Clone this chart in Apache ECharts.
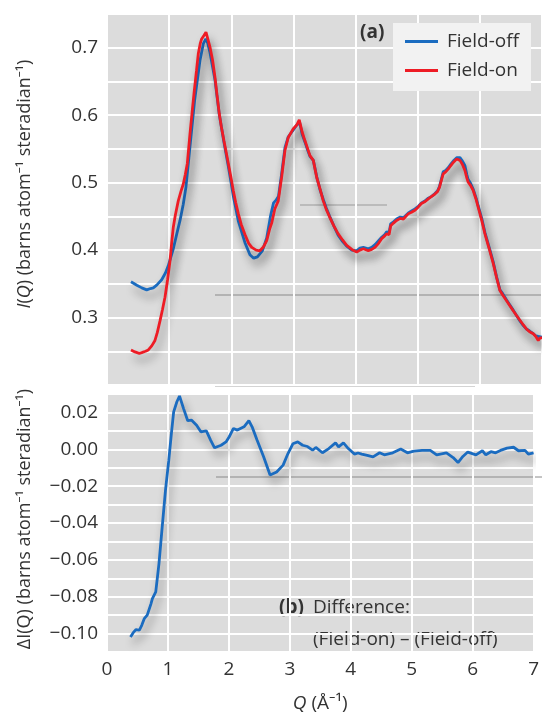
<!DOCTYPE html>
<html><head><meta charset="utf-8">
<script src="https://cdn.jsdelivr.net/npm/echarts@6/dist/echarts.min.js"></script>
<style>html,body{margin:0;padding:0;background:#fff}#c{width:542px;height:717px}</style>
</head><body><div id="c"></div>
<script>
const fieldOffQ = [0.386,0.48,0.56,0.639,0.70,0.745,0.80,0.88,0.94,0.987,1.067,1.12,1.175,1.227,1.27,1.335,1.41,1.496,1.55,1.59,1.62,1.657,1.738,1.807,1.882,1.953,2.033,2.113,2.22,2.30,2.36,2.42,2.50,2.57,2.63,2.68,2.72,2.76,2.81,2.864,2.917,2.998,3.05,3.10,3.14,3.186,3.23,3.266,3.32,3.374,3.43,3.48,3.53,3.583,3.65,3.72,3.79,3.857,3.94,4.018,4.07,4.125,4.205,4.26,4.313,4.37,4.42,4.47,4.50,4.54,4.565,4.61,4.66,4.72,4.77,4.85,4.90,4.956,5.01,5.06,5.12,5.17,5.23,5.277,5.32,5.35,5.38,5.41,5.45,5.49,5.53,5.572,5.627,5.68,5.72,5.76,5.79,5.81,5.85,5.894,5.94,5.975,6.03,6.082,6.15,6.216,6.27,6.323,6.37,6.43,6.48,6.537,6.59,6.645,6.70,6.75,6.80,6.86,6.90,6.94,6.97,7.0];
const fieldOffI = [0.353,0.348,0.344,0.341,0.343,0.344,0.348,0.356,0.366,0.377,0.402,0.423,0.444,0.468,0.493,0.553,0.622,0.681,0.706,0.713,0.707,0.693,0.652,0.601,0.560,0.524,0.480,0.443,0.411,0.393,0.388,0.390,0.399,0.418,0.450,0.470,0.474,0.480,0.513,0.552,0.568,0.578,0.585,0.589,0.572,0.560,0.548,0.539,0.533,0.509,0.489,0.475,0.462,0.450,0.436,0.422,0.413,0.406,0.400,0.399,0.403,0.404,0.402,0.404,0.408,0.414,0.419,0.423,0.427,0.426,0.439,0.442,0.446,0.449,0.448,0.455,0.458,0.461,0.465,0.470,0.473,0.477,0.480,0.484,0.488,0.494,0.505,0.516,0.518,0.522,0.527,0.532,0.537,0.537,0.532,0.525,0.512,0.505,0.499,0.490,0.477,0.465,0.447,0.426,0.404,0.382,0.360,0.341,0.335,0.326,0.319,0.311,0.303,0.295,0.288,0.283,0.280,0.276,0.273,0.272,0.272,0.271];
const fieldOnQ = [0.386,0.45,0.52,0.558,0.62,0.665,0.72,0.772,0.81,0.853,0.893,0.933,0.975,1.014,1.04,1.067,1.10,1.147,1.19,1.228,1.26,1.292,1.335,1.37,1.40,1.44,1.469,1.50,1.523,1.56,1.593,1.62,1.657,1.70,1.738,1.77,1.807,1.84,1.882,1.92,1.953,2.00,2.033,2.07,2.113,2.16,2.22,2.28,2.33,2.40,2.46,2.52,2.57,2.62,2.65,2.70,2.756,2.81,2.864,2.917,2.998,3.05,3.094,3.14,3.186,3.23,3.266,3.32,3.374,3.43,3.48,3.53,3.583,3.65,3.72,3.79,3.857,3.94,4.018,4.07,4.125,4.205,4.26,4.313,4.37,4.42,4.47,4.50,4.54,4.565,4.61,4.66,4.72,4.77,4.85,4.90,4.956,5.01,5.06,5.12,5.17,5.23,5.277,5.32,5.35,5.38,5.41,5.45,5.49,5.53,5.572,5.627,5.68,5.72,5.76,5.79,5.81,5.85,5.894,5.94,5.975,6.03,6.082,6.15,6.216,6.27,6.323,6.37,6.43,6.48,6.537,6.59,6.645,6.70,6.75,6.80,6.86,6.90,6.94,6.97,7.0];
const fieldOnI = [0.252,0.249,0.247,0.248,0.250,0.252,0.258,0.266,0.278,0.295,0.312,0.330,0.356,0.384,0.410,0.434,0.452,0.473,0.487,0.498,0.512,0.528,0.572,0.605,0.632,0.666,0.691,0.706,0.713,0.718,0.723,0.714,0.701,0.681,0.656,0.630,0.602,0.583,0.562,0.544,0.528,0.505,0.488,0.471,0.454,0.438,0.423,0.410,0.404,0.400,0.399,0.405,0.414,0.432,0.440,0.461,0.473,0.508,0.548,0.567,0.580,0.585,0.593,0.575,0.562,0.550,0.540,0.533,0.508,0.490,0.473,0.460,0.449,0.436,0.424,0.415,0.407,0.401,0.397,0.400,0.402,0.399,0.401,0.404,0.410,0.417,0.421,0.424,0.423,0.436,0.440,0.444,0.447,0.446,0.454,0.456,0.459,0.464,0.469,0.472,0.476,0.480,0.483,0.487,0.493,0.503,0.513,0.516,0.520,0.525,0.530,0.535,0.533,0.527,0.518,0.507,0.501,0.496,0.488,0.475,0.463,0.444,0.424,0.402,0.380,0.359,0.340,0.333,0.325,0.318,0.310,0.303,0.296,0.289,0.283,0.279,0.276,0.272,0.266,0.270,0.270];
const diffQ = [0.386,0.43,0.477,0.531,0.57,0.611,0.66,0.692,0.72,0.745,0.80,0.853,0.906,0.96,1.014,1.057,1.094,1.147,1.19,1.255,1.325,1.389,1.47,1.54,1.63,1.70,1.765,1.872,1.953,2.006,2.075,2.14,2.248,2.328,2.381,2.462,2.57,2.676,2.784,2.89,2.97,3.05,3.13,3.21,3.29,3.374,3.427,3.535,3.64,3.75,3.80,3.88,3.96,4.06,4.12,4.18,4.27,4.366,4.473,4.55,4.69,4.82,4.93,5.036,5.17,5.305,5.41,5.57,5.68,5.76,5.84,5.92,6.055,6.16,6.216,6.30,6.377,6.457,6.565,6.672,6.753,6.86,6.914,7.0];
const diffI = [-0.1018,-0.0995,-0.0978,-0.0982,-0.0955,-0.0919,-0.0900,-0.0891,-0.0840,-0.0810,-0.0774,-0.0620,-0.0421,-0.0222,-0.0059,0.0086,0.0203,0.0258,0.0289,0.0222,0.0155,0.0158,0.0131,0.0095,0.0100,0.0050,0.0008,0.0022,0.0040,0.0068,0.0113,0.0104,0.0122,0.0155,0.0122,0.0050,-0.0041,-0.0140,-0.0123,-0.0086,-0.0023,0.0030,0.0040,0.0022,0.0015,-0.0005,0.0010,-0.0019,0.0004,0.0035,0.0013,0.0035,0.0004,-0.0026,-0.0020,-0.0026,-0.0033,-0.0041,-0.0019,-0.0030,-0.0019,0.0001,-0.0019,-0.0010,-0.0006,-0.0006,-0.0030,-0.0019,-0.0045,-0.0072,-0.0039,-0.0015,-0.0030,-0.0008,-0.0030,-0.0013,-0.0019,-0.0006,0.0006,0.0011,-0.0008,-0.0006,-0.0026,-0.0019];
const xTicks = [0,1,2,3,4,5,6,7];
const topTickLabels = ['0.3','0.4','0.5','0.6','0.7'];
const bottomTickLabels = ['\u22120.10','\u22120.08','\u22120.06','\u22120.04','\u22120.02','0.00','0.02'];
const seriesNames = ['Field-off','Field-on'];

const FONT = '"Open Sans", "Noto Sans", sans-serif';
const BLUE = '#1b6cc0', RED = '#ee1c25';
const zip = (a,b) => a.map((v,i)=>[v,b[i]]);
const shadow = {shadowColor:'rgba(0,0,0,0.38)', shadowBlur:9, shadowOffsetX:3, shadowOffsetY:7};

const chart = echarts.init(document.getElementById('c'), null, {renderer:'canvas'});
const splitLine = {show:true, lineStyle:{color:'#ffffff', width:2}};
const topFmt = v => { const r = Math.round(v*100); const s=(r/100).toFixed(1); return (r%10===0 && topTickLabels.includes(s)) ? s : ''; };
const botFmt = v => { const r = Math.round(v*100); const s=(r/100).toFixed(2).replace('-','\u2212'); return (r%2===0 && bottomTickLabels.includes(s)) ? s : ''; };

chart.setOption({
  animation:false,
  textStyle:{fontFamily:FONT},
  grid:[
    {left:107, right:0, top:14, height:371, show:true, backgroundColor:'#dcdcdc', borderWidth:0},
    {left:107, right:0, top:394, height:258, show:true, backgroundColor:'#dcdcdc', borderWidth:0}
  ],
  legend:{
    data:seriesNames, orient:'vertical', left:393, top:23,
    padding:[9,12,11,12], itemGap:10, itemWidth:33, itemHeight:3, icon:'rect',
    backgroundColor:'#f2f2f2',
    textStyle:{fontSize:19, color:'#333', fontFamily:FONT, padding:[0,0,0,4]}
  },
  xAxis:[
    {gridIndex:0, type:'value', min:xTicks[0], max:xTicks[xTicks.length-1], interval:1,
     axisLabel:{show:false}, axisTick:{show:false}, axisLine:{show:false}, splitLine},
    {gridIndex:1, type:'value', min:xTicks[0], max:xTicks[xTicks.length-1], interval:1,
     axisLabel:{show:true, fontSize:19, color:'#333', margin:8, showMaxLabel:true, showMinLabel:true},
     axisTick:{show:false}, axisLine:{show:false}, splitLine,
     name:'{i|Q} (Å\u207B\u00B9)', nameLocation:'middle', nameGap:42,
     nameTextStyle:{fontSize:19, color:'#333', rich:{i:{fontStyle:'italic', fontSize:19, color:'#333'}}}}
  ],
  yAxis:[
    {gridIndex:0, type:'value', min:0.2, max:0.75, interval:0.05,
     axisLabel:{fontSize:19, color:'#333', margin:9, formatter:topFmt},
     axisTick:{show:false}, axisLine:{show:false}, splitLine},
    {gridIndex:1, type:'value', min:-0.11, max:0.03, interval:0.01,
     axisLabel:{fontSize:19, color:'#333', margin:9, formatter:botFmt},
     axisTick:{show:false}, axisLine:{show:false}, splitLine}
  ],
  series:[
    {name:seriesNames[0], type:'line', xAxisIndex:0, yAxisIndex:0, data:zip(fieldOffQ, fieldOffI),
     showSymbol:false, symbol:'none', color:BLUE, lineStyle:Object.assign({color:BLUE, width:2.8}, shadow)},
    {name:seriesNames[1], type:'line', xAxisIndex:0, yAxisIndex:0, data:zip(fieldOnQ, fieldOnI),
     showSymbol:false, symbol:'none', color:RED, lineStyle:Object.assign({color:RED, width:2.8}, shadow)},
    {name:'Difference', type:'line', xAxisIndex:1, yAxisIndex:1, data:zip(diffQ, diffI),
     showSymbol:false, symbol:'none', color:BLUE, lineStyle:Object.assign({color:BLUE, width:2.8}, shadow)}
  ],
  graphic:[
    {type:'text', x:25, y:184, rotation:Math.PI/2,
     style:{text:'{i|I}({i|Q}) (barns atom\u207B\u00B9 steradian\u207B\u00B9)', align:'center', verticalAlign:'middle',
            fontSize:18, fontFamily:FONT, fill:'#333', rich:{i:{fontStyle:'italic', fontSize:18, fontFamily:FONT, fill:'#333'}}}},
    {type:'text', x:25, y:519, rotation:Math.PI/2,
     style:{text:'\u0394I(Q) (barns atom\u207B\u00B9 steradian\u207B\u00B9)', align:'center', verticalAlign:'middle',
            fontSize:18, fontFamily:FONT, fill:'#333'}},
    {type:'text', x:360, y:33, style:{text:'(a)', verticalAlign:'middle', fontSize:19, fontWeight:'bold', fontFamily:FONT, fill:'#333'}},
    {type:'text', x:279, y:608, style:{text:'(b)', verticalAlign:'middle', fontSize:19, fontWeight:'bold', fontFamily:FONT, fill:'#333'}},
    {type:'text', x:313, y:608, style:{text:'Difference:', verticalAlign:'middle', fontSize:19, fontFamily:FONT, fill:'#333'}},
    {type:'text', x:313, y:640, style:{text:'(Field-on) \u2013 (Field-off)', verticalAlign:'middle', fontSize:19, fontFamily:FONT, fill:'#333'}},
    {type:'line', shape:{x1:300, y1:205, x2:387, y2:205}, style:{stroke:'#9a9a9a', lineWidth:1}},
    {type:'line', shape:{x1:215, y1:295, x2:542, y2:295}, style:{stroke:'#8a8a8a', lineWidth:1}},
    {type:'line', shape:{x1:215, y1:386, x2:475, y2:386}, style:{stroke:'#aaaaaa', lineWidth:1}},
    {type:'line', shape:{x1:216, y1:477, x2:542, y2:477}, style:{stroke:'#8a8a8a', lineWidth:1}}
  ]
});
</script></body></html>
